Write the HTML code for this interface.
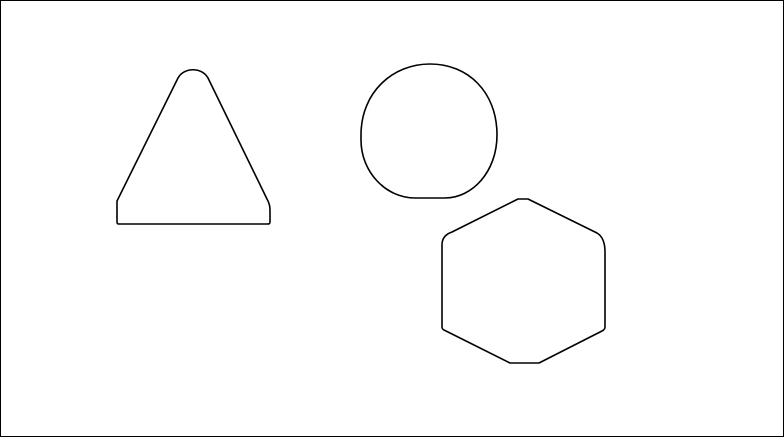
<!DOCTYPE html>
<html><head><meta charset="utf-8"><style>
html,body{margin:0;padding:0;background:#fff;}
svg{display:block;}
</style></head><body>
<svg width="784" height="437" viewBox="0 0 784 437">
<rect x="0.5" y="0.5" width="783" height="436" fill="#fff" stroke="#000" stroke-width="1"/>
<g fill="none" stroke="#000" stroke-width="1.6" stroke-linejoin="round">
<path d="M117,201 L178,78 C184,67 202,67 208,78 L267,199 C270,204 270,208 270,212 L270,222 C270,224 269,224 267,224 L119,224 C117,224 117,223 117,221 Z"/>
<path d="M361,135 C361,92 393,64 430,64 C468,64 497,92 497,135 C497,172 472,198 445,198 L415,198 C386,198 361,172 361,140 Z"/>
<path d="M518,199 L528,199 L597,233 C602,236 605,242 605,252 L605,327 C605,329 604,330 602,331 L539,363 L510,363 L444,330 C442,329 442,328 442,326 L442,245 C442,238 446,234 452,232 Z"/>
</g>
</svg>
</body></html>
